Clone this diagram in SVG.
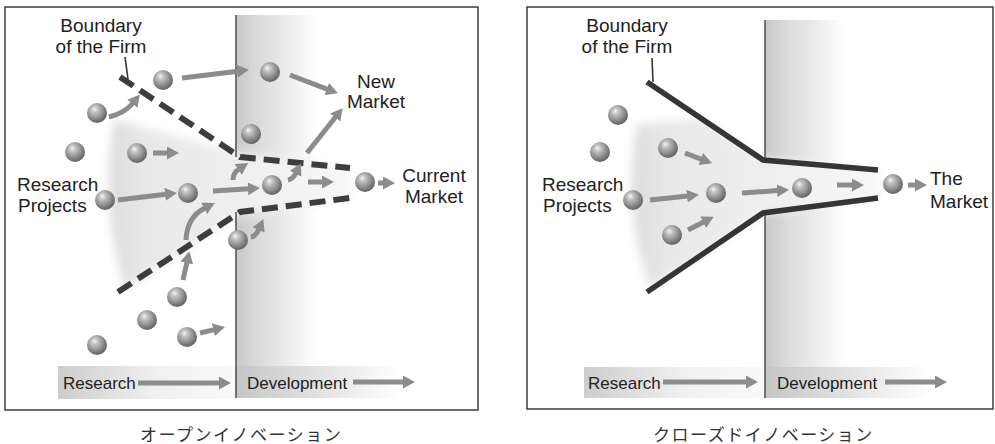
<svg xmlns="http://www.w3.org/2000/svg" width="995" height="444" viewBox="0 0 995 444">
<defs>
<style>
.frame{fill:#fff;stroke:#3c3c3c;stroke-width:1.5}
.lbl{font-family:"Liberation Sans",Arial,sans-serif;font-size:19px;fill:#222}
.bot{font-family:"Liberation Sans",Arial,sans-serif;font-size:17px;fill:#222}
.cap{font-family:"Liberation Sans","Noto Sans CJK JP",sans-serif;font-size:17px;fill:#333;letter-spacing:1.5px}
.arr{fill:none;stroke:#8c8c8c;stroke-width:5;marker-end:url(#ah)}
.dash{fill:none;stroke:#3d3d3d;stroke-width:6;stroke-dasharray:16 8}
.solid{fill:none;stroke:#353535;stroke-width:5.5;stroke-linejoin:miter}
.ptr{fill:none;stroke:#333;stroke-width:1.6}
.vline{stroke:#555;stroke-width:1.6}
.ball{fill:url(#sph)}
</style>
<radialGradient id="sph" cx="0.42" cy="0.38" r="0.62" fx="0.36" fy="0.3">
<stop offset="0" stop-color="#f6f6f6"/>
<stop offset="0.25" stop-color="#c4c4c4"/>
<stop offset="0.7" stop-color="#8a8a8a"/>
<stop offset="1" stop-color="#616161"/>
</radialGradient>
<linearGradient id="band" x1="0" x2="1" y1="0" y2="0">
<stop offset="0" stop-color="#c8c8c8"/>
<stop offset="0.3" stop-color="#dcdcdc"/>
<stop offset="0.65" stop-color="#ececec"/>
<stop offset="1" stop-color="#fff"/>
</linearGradient>
<linearGradient id="rbg" x1="0" x2="1" y1="0" y2="0">
<stop offset="0" stop-color="#cdcdcd"/>
<stop offset="0.55" stop-color="#f0f0f0"/>
<stop offset="1" stop-color="#fafafa"/>
</linearGradient>
<linearGradient id="dbg" x1="0" x2="1" y1="0" y2="0">
<stop offset="0" stop-color="#c6c6c6"/>
<stop offset="0.5" stop-color="#e2e2e2"/>
<stop offset="1" stop-color="#fff"/>
</linearGradient>
<linearGradient id="fan" x1="0" x2="1" y1="0" y2="0">
<stop offset="0" stop-color="#dcdcdc"/>
<stop offset="0.15" stop-color="#e8e8e8"/>
<stop offset="0.6" stop-color="#f0f0f0"/>
<stop offset="1" stop-color="#f7f7f7"/>
</linearGradient>
<filter id="soft" x="-20%" y="-20%" width="140%" height="140%">
<feGaussianBlur stdDeviation="5"/>
</filter>
<marker id="ah" markerUnits="userSpaceOnUse" markerWidth="13" markerHeight="13" refX="1" refY="6.5" orient="auto">
<path d="M0,0 L12,6.5 L0,13 Z" fill="#8c8c8c"/>
</marker>
</defs>

<!-- Frames -->
<rect class="frame" x="5" y="7" width="473" height="403"/>
<rect class="frame" x="527" y="7" width="466" height="402"/>

<!-- Background shading -->
<g id="backgrounds">
<rect x="236" y="15" width="80" height="383" fill="url(#band)"/>
<rect x="765" y="20" width="80" height="378" fill="url(#band)"/>
<rect x="58" y="366" width="178" height="33" fill="url(#rbg)"/>
<rect x="236" y="366" width="165" height="32" fill="url(#dbg)"/>
<rect x="584" y="367" width="181" height="31" fill="url(#rbg)"/>
<rect x="765" y="367" width="165" height="31" fill="url(#dbg)"/>
<path d="M114,120 L238,152 L352,166 L352,200 L238,216 L125,290 Q100,210 114,120 Z" fill="url(#fan)" filter="url(#soft)"/>
<path d="M637,125 L700,118 L763,158 L880,168 L880,200 L763,215 L650,288 Q622,210 637,125 Z" fill="url(#fan)" filter="url(#soft)"/>
<line class="vline" x1="236" y1="15" x2="236" y2="157"/>
<line class="vline" x1="236" y1="212" x2="236" y2="398"/>
<line class="vline" x1="765" y1="20" x2="765" y2="160"/>
<line class="vline" x1="765" y1="213" x2="765" y2="398"/>
</g>

<!-- Boundaries -->
<g id="boundaries">
<polyline class="dash" points="120,77 240,157 350,168"/>
<polyline class="dash" points="118,292 240,212 350,198"/>
<line class="ptr" x1="125" y1="57" x2="128" y2="79"/>
<polyline class="solid" points="647,82 763,160 878,170"/>
<polyline class="solid" points="647,292 763,213 878,198"/>
<line class="ptr" x1="652" y1="58" x2="653" y2="82"/>
</g>

<!-- Connectors -->
<g id="connectors">
<line class="arr" x1="182" y1="78" x2="238" y2="71.2"/>
<line class="arr" x1="290" y1="75" x2="327.7" y2="89.4"/>
<path class="arr" d="M109,117 Q125,113 133,103"/>
<line class="arr" x1="153" y1="153" x2="168" y2="153"/>
<line class="arr" x1="118" y1="200" x2="166" y2="194.2"/>
<line class="arr" x1="213" y1="191" x2="249" y2="188.7"/>
<path class="arr" d="M186,240 Q187,217 205,208"/>
<line class="arr" x1="183" y1="280" x2="187" y2="262"/>
<path class="arr" d="M233,180 Q233,173 239,169"/>
<path class="arr" d="M251,237 Q256,236 259,229"/>
<path class="arr" d="M288,180 Q293,179 296,173"/>
<line class="arr" x1="307" y1="153" x2="335.8" y2="116.8"/>
<line class="arr" x1="308" y1="182" x2="323" y2="182"/>
<line class="arr" x1="378" y1="183" x2="384" y2="183"/>
<line class="arr" x1="200" y1="333" x2="214.3" y2="329.6"/>
<line class="arr" x1="138" y1="383" x2="220" y2="383"/>
<line class="arr" x1="353" y1="382" x2="404" y2="382"/>

<line class="arr" x1="685" y1="153" x2="701.7" y2="159.4"/>
<line class="arr" x1="650" y1="200" x2="688" y2="196"/>
<line class="arr" x1="688" y1="230" x2="704" y2="221.7"/>
<line class="arr" x1="742" y1="193" x2="778" y2="190.6"/>
<line class="arr" x1="837" y1="185" x2="853" y2="185"/>
<line class="arr" x1="908" y1="185" x2="916" y2="185"/>
<line class="arr" x1="663" y1="382" x2="747" y2="382"/>
<line class="arr" x1="885" y1="382" x2="936" y2="382"/>
</g>

<!-- Open innovation nodes -->
<g id="o1"><circle class="ball" cx="163" cy="80" r="10"/></g>
<g id="o2"><circle class="ball" cx="97" cy="113" r="10"/></g>
<g id="o3"><circle class="ball" cx="75" cy="152" r="10"/></g>
<g id="o4"><circle class="ball" cx="137" cy="153" r="10"/></g>
<g id="o5"><circle class="ball" cx="105" cy="200" r="10"/></g>
<g id="o6"><circle class="ball" cx="188" cy="193" r="10"/></g>
<g id="o7"><circle class="ball" cx="251" cy="134" r="10"/></g>
<g id="o8"><circle class="ball" cx="270" cy="72" r="10"/></g>
<g id="o9"><circle class="ball" cx="272" cy="185" r="10"/></g>
<g id="o10"><circle class="ball" cx="365" cy="182" r="10"/></g>
<g id="o11"><circle class="ball" cx="238" cy="240" r="10"/></g>
<g id="o12"><circle class="ball" cx="177" cy="297" r="10"/></g>
<g id="o13"><circle class="ball" cx="147" cy="320" r="10"/></g>
<g id="o14"><circle class="ball" cx="187" cy="337" r="10"/></g>
<g id="o15"><circle class="ball" cx="97" cy="345" r="10"/></g>

<!-- Closed innovation nodes -->
<g id="c1"><circle class="ball" cx="618" cy="115" r="10"/></g>
<g id="c2"><circle class="ball" cx="600" cy="152" r="10"/></g>
<g id="c3"><circle class="ball" cx="668" cy="148" r="10"/></g>
<g id="c4"><circle class="ball" cx="633" cy="200" r="10"/></g>
<g id="c5"><circle class="ball" cx="716" cy="193" r="10"/></g>
<g id="c6"><circle class="ball" cx="672" cy="235" r="10"/></g>
<g id="c7"><circle class="ball" cx="802" cy="188" r="10"/></g>
<g id="c8"><circle class="ball" cx="893" cy="184" r="10"/></g>

<!-- Labels -->
<g id="label-boundary-open">
<text class="lbl" x="101" y="32" text-anchor="middle">Boundary</text>
<text class="lbl" x="101" y="53" text-anchor="middle">of the Firm</text>
</g>
<g id="label-research-open">
<text class="lbl" x="17" y="191">Research</text>
<text class="lbl" x="18" y="212">Projects</text>
</g>
<g id="label-new-market">
<text class="lbl" x="376" y="88" text-anchor="middle">New</text>
<text class="lbl" x="376" y="108" text-anchor="middle">Market</text>
</g>
<g id="label-current-market">
<text class="lbl" x="434" y="182" text-anchor="middle">Current</text>
<text class="lbl" x="434" y="203" text-anchor="middle">Market</text>
</g>
<g id="label-axis-open">
<text class="bot" x="63" y="389">Research</text>
<text class="bot" x="247" y="389">Development</text>
</g>
<g id="label-boundary-closed">
<text class="lbl" x="627" y="32" text-anchor="middle">Boundary</text>
<text class="lbl" x="627" y="53" text-anchor="middle">of the Firm</text>
</g>
<g id="label-research-closed">
<text class="lbl" x="542" y="191">Research</text>
<text class="lbl" x="543" y="212">Projects</text>
</g>
<g id="label-the-market">
<text class="lbl" x="930" y="185">The</text>
<text class="lbl" x="930" y="208">Market</text>
</g>
<g id="label-axis-closed">
<text class="bot" x="588" y="389">Research</text>
<text class="bot" x="777" y="389">Development</text>
</g>

<!-- Captions -->
<text class="cap" x="140" y="441">オープンイノベーション</text>
<text class="cap" x="653" y="441">クローズドイノベーション</text>
</svg>
